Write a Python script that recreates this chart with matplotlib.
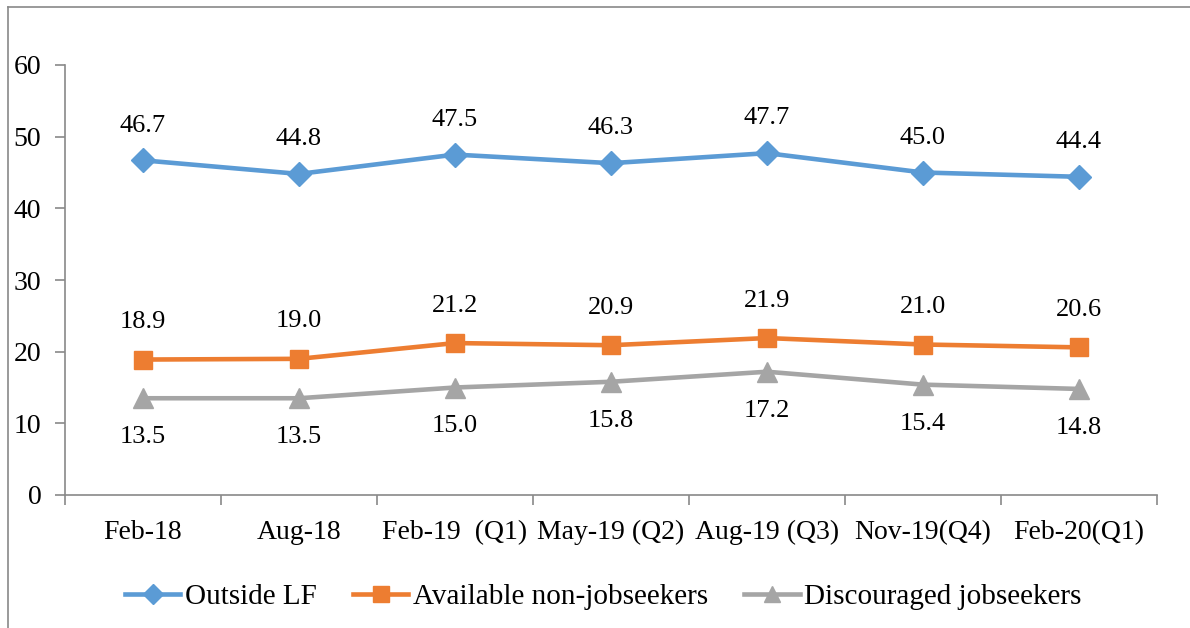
import matplotlib.pyplot as plt
from matplotlib.lines import Line2D

# Data
periods = ['Feb-18', 'Aug-18', 'Feb-19  (Q1)', 'May-19 (Q2)', 'Aug-19 (Q3)', 'Nov-19(Q4)', 'Feb-20(Q1)']
outside_lf = [46.7, 44.8, 47.5, 46.3, 47.7, 45.0, 44.4]
available = [18.9, 19.0, 21.2, 20.9, 21.9, 21.0, 20.6]
discouraged = [13.5, 13.5, 15.0, 15.8, 17.2, 15.4, 14.8]

plt.rcParams['font.family'] = ['Liberation Serif', 'DejaVu Serif']
plt.rcParams['font.size'] = 20

fig = plt.figure(figsize=(11.9, 6.28), dpi=100)
ax = fig.add_axes([65 / 1190, 1 - 495 / 628, (1157 - 65) / 1190, (495 - 65) / 628])

x = list(range(len(periods)))
blue, orange, gray = '#5B9BD5', '#ED7D31', '#A5A5A5'

ax.plot(x, outside_lf, color=blue, lw=3.3, marker='D', ms=12, label='Outside LF')
ax.plot(x, available, color=orange, lw=3.3, marker='s', ms=13, label='Available non-jobseekers')
ax.plot(x, discouraged, color=gray, lw=3.3, marker='^', ms=14, label='Discouraged jobseekers')

# data labels
for i in x:
    ax.annotate('%.1f' % outside_lf[i], (i, outside_lf[i]), xytext=(0, 25),
                textcoords='offset points', ha='center', va='center', fontsize=19)
    ax.annotate('%.1f' % available[i], (i, available[i]), xytext=(0, 27),
                textcoords='offset points', ha='center', va='center', fontsize=19)
    ax.annotate('%.1f' % discouraged[i], (i, discouraged[i]), xytext=(0, -28),
                textcoords='offset points', ha='center', va='center', fontsize=19)

ax.set_xlim(-0.5, len(periods) - 0.5)
ax.set_ylim(0, 60)
ax.set_yticks(range(0, 61, 10))
ax.set_xticks([i - 0.5 for i in range(len(periods) + 1)])
ax.set_xticklabels([])
ax.set_xticks(x, minor=True)
ax.set_xticklabels(periods, minor=True)
ax.tick_params(axis='x', which='minor', length=0, pad=18)
ax.tick_params(axis='x', which='major', length=7, color='#898989', width=1.2)
ax.tick_params(axis='y', length=7, color='#898989', width=1.2, pad=10)

for s in ['top', 'right']:
    ax.spines[s].set_visible(False)
for s in ['left', 'bottom']:
    ax.spines[s].set_color('#898989')
    ax.spines[s].set_linewidth(1.2)

handles = [
    Line2D([], [], color=blue, lw=3.3, marker='D', ms=10),
    Line2D([], [], color=orange, lw=3.3, marker='s', ms=11),
    Line2D([], [], color=gray, lw=3.3, marker='^', ms=12),
]
fig.legend(handles, ['Outside LF', 'Available non-jobseekers', 'Discouraged jobseekers'],
           loc='center', bbox_to_anchor=(0.507, 1 - 597 / 628), ncol=3, frameon=False,
           fontsize=21, handlelength=1.9, handletextpad=0.15, columnspacing=1.25)

# chart border (top and left edges visible)
fig.add_artist(Line2D([8 / 1190, 1], [1 - 7 / 628, 1 - 7 / 628], color='#898989', lw=1.2))
fig.add_artist(Line2D([8 / 1190, 8 / 1190], [0, 1 - 7 / 628], color='#898989', lw=1.2))

fig.savefig('out.png', dpi=100)
